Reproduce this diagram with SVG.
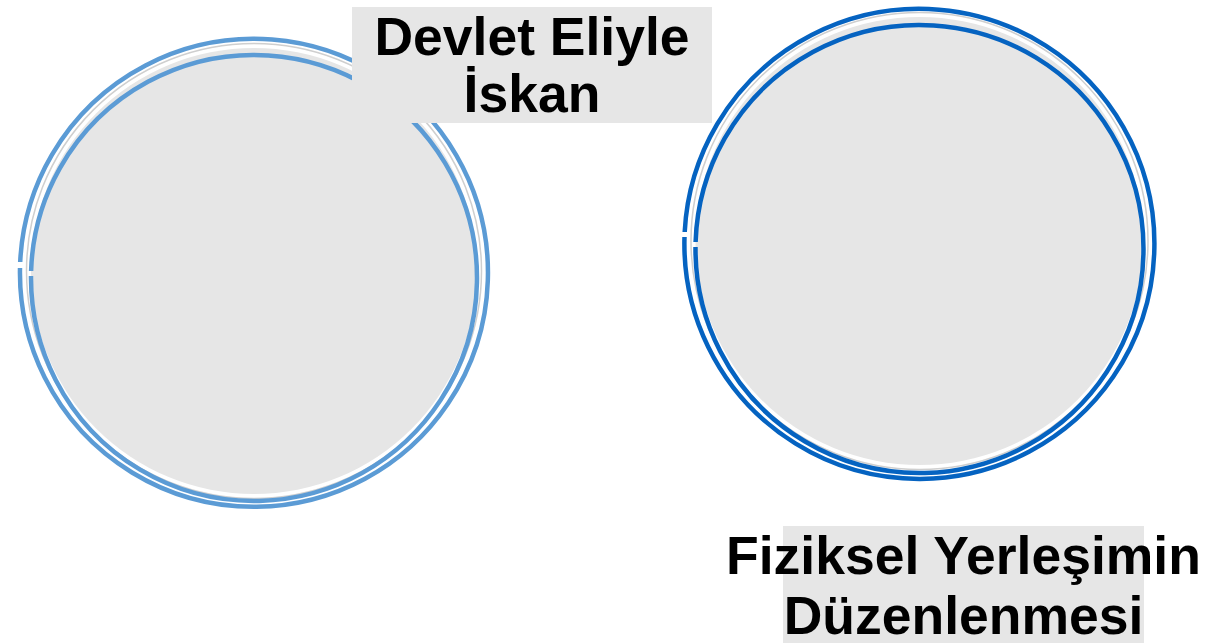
<svg xmlns="http://www.w3.org/2000/svg" width="1207" height="643" viewBox="0 0 1207 643">
<style>
.fill{fill:#E6E6E6;stroke:none}
.ring{fill:none;stroke-width:4.5}
.shadow{fill:none;stroke:#CFCFCF;stroke-width:1.5}
.l{stroke:#5B9BD5}
.r{stroke:#0563C1}
.box{fill:#E6E6E6}
.t{font-family:"Liberation Sans",Arial,sans-serif;font-weight:bold;font-size:53.5px;fill:#000;text-anchor:middle}
</style>
<rect width="1207" height="643" fill="#FFFFFF"/>
<g id="node-left">
<circle class="fill" cx="254" cy="271" r="223"/>
<circle class="shadow" cx="254" cy="271" r="227.5"/>
<path class="ring l" d="M 20.2 262 A 234 234 0 1 1 20.0 268"/>
<path class="ring l" d="M 31.1 271 A 223 223 0 1 1 31.0 276"/>
</g>
<g id="node-right">
<circle class="fill" cx="919.5" cy="241" r="224"/>
<circle class="shadow" cx="919.5" cy="241" r="228.5"/>
<path class="ring r" d="M 684.7 232 A 235 235 0 1 1 684.5 237"/>
<path class="ring r" d="M 695.6 242 A 224 224 0 1 1 695.5 247"/>
</g>
<g id="label-devlet">
<rect class="box" x="352" y="7" width="360" height="116"/>
<text class="t" x="532" y="55">Devlet Eliyle</text>
<text class="t" x="532" y="112">İskan</text>
</g>
<g id="label-fiziksel">
<rect class="box" x="783" y="526" width="361" height="117"/>
<text class="t" x="963.5" y="574">Fiziksel Yerleşimin</text>
<text class="t" x="963.5" y="634">Düzenlenmesi</text>
</g>
<g id="connectors"></g>
</svg>
